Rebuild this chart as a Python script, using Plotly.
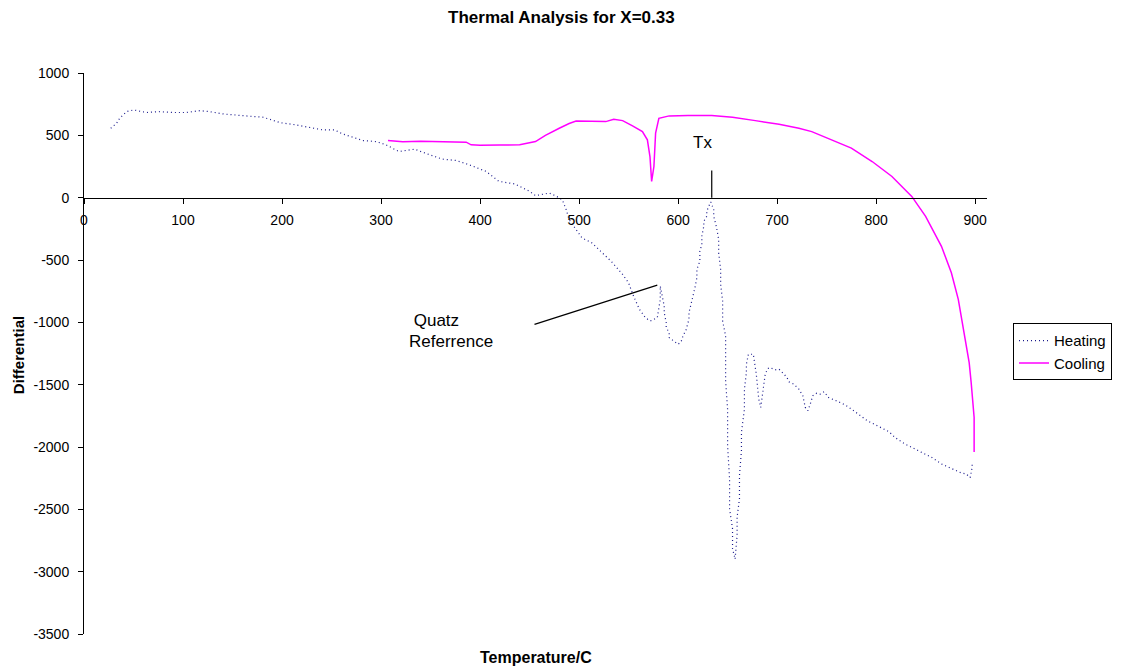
import plotly.graph_objects as go

# Heating series (temperature / differential)
heat_T = [27, 30, 33, 36, 43, 50, 63, 75, 90, 103, 117, 127, 140, 160, 181, 198, 214, 241, 253, 261,
          282, 295, 305, 318, 334, 349, 362, 376, 389, 406, 419, 435, 450, 456, 470, 476, 483, 487,
          490, 497, 503, 513, 524, 534, 544, 550, 555, 561, 567, 572, 579, 582, 582, 586, 586, 588,
          588, 591, 591, 596, 600, 603, 605, 608, 611, 611, 614, 617, 619, 619, 622, 622, 624, 624,
          626, 626, 629, 629, 631, 633, 636, 636, 639, 641, 641, 643, 643, 645, 645, 648, 648, 650,
          650, 652, 652, 655, 655, 657.6, 659.6, 659.6, 662, 662, 664, 664, 667, 667, 669, 669, 671,
          676, 679, 681.5, 683.5, 686, 688, 690.5, 693, 698, 702, 707, 710, 712, 717, 722, 726, 728.5,
          731, 733.5, 736, 740, 743.5, 747.5, 752, 762, 769, 776, 782, 791, 799, 806, 813, 819, 829,
          836, 846, 856, 866, 876, 886, 891, 895, 897, 897]
heat_D = [557, 575, 597, 637, 690, 704, 683, 690, 683, 683, 698, 690, 672, 658, 645, 602, 584, 544, 544, 512,
          458, 450, 424, 370, 389, 344, 309, 298, 264, 211, 131, 110, 51, 16, 37, 16, -16, -96,
          -176, -256, -323, -363, -443, -523, -616, -683, -789, -896, -963, -989, -963, -816, -709, -870, -923, -1002,
          -1042, -1082, -1122, -1149, -1176, -1157, -1109, -1061, -976, -923, -829, -723, -643, -576, -509, -429, -376, -309,
          -229, -189, -149, -109, -69, -35, -96, -149, -243, -336, -443, -576, -696, -829, -989, -1109, -1469, -1696,
          -1989, -2256, -2496, -2656, -2816, -2900, -2709, -2563, -2416, -2229, -2029, -1883, -1696, -1536, -1403, -1336, -1256,
          -1256, -1416, -1616, -1683, -1549, -1416, -1371, -1363, -1381, -1376, -1416, -1443, -1477, -1496, -1536, -1589, -1683,
          -1709, -1656, -1589, -1568, -1576, -1557, -1603, -1637, -1664, -1701, -1736, -1789, -1821, -1850, -1877, -1923, -1976,
          -2003, -2043, -2083, -2136, -2171, -2208, -2216, -2245, -2163, -2123]

# Cooling series
cool_T = [307, 322, 340, 360, 376, 386, 391, 400, 420, 440, 456, 466, 480, 490, 497, 510, 527, 535, 544,
          554, 564, 569, 571.6, 573.3, 575.6, 577.3, 580.6, 591, 610, 634, 655, 678, 702, 722, 735,
          755, 775, 796, 816, 836, 850, 866, 876, 883, 888, 891.5, 894, 896, 897.5, 899, 899]
cool_D = [458, 448, 452, 450, 448, 445, 424, 420, 422, 424, 450, 500, 557, 595, 614, 612, 610, 629, 618,
          576, 530, 464, 330, 131, 250, 517, 637, 656, 660, 659, 645, 618, 589, 557, 530,
          464, 397, 290, 170, 10, -150, -390, -602, -816, -1056, -1189, -1323, -1483, -1616, -1763, -2040]

x_ticks = [0, 100, 200, 300, 400, 500, 600, 700, 800, 900]
y_ticks = [1000, 500, 0, -500, -1000, -1500, -2000, -2500, -3000, -3500]

FONT = "Liberation Sans, Arial, sans-serif"

fig = go.Figure()
fig.add_trace(go.Scatter(x=heat_T, y=heat_D, mode="lines", name="Heating",
                         line=dict(color="#1a1a8c", width=1.2, dash="1px,3px")))
fig.add_trace(go.Scatter(x=cool_T, y=cool_D, mode="lines", name="Cooling",
                         line=dict(color="#FF00FF", width=1.5)))

# Tx marker line
fig.add_shape(type="line", x0=634, x1=634, y0=0, y1=218, line=dict(color="black", width=1.2))
fig.add_annotation(x=625, y=444, text="Tx", showarrow=False, font=dict(family=FONT, size=17, color="black"))

# Quartz reference leader line
fig.add_shape(type="line", x0=455, y0=-1016, x1=579, y1=-702, line=dict(color="black", width=1.2))
fig.add_annotation(x=326, y=-984, text="&nbsp;Quatz", showarrow=False, xanchor="left",
                   font=dict(family=FONT, size=17, color="black"))
fig.add_annotation(x=326, y=-1152, text="Referrence", showarrow=False, xanchor="left",
                   font=dict(family=FONT, size=17, color="black"))

# Axis titles
fig.add_annotation(xref="paper", yref="paper", x=0.5, y=-0.041, text="<b>Temperature/C</b>",
                   showarrow=False, yanchor="middle", font=dict(family=FONT, size=16, color="black"))
fig.add_annotation(xref="paper", yref="paper", x=-0.0731, y=0.497, text="<b>Differential</b>",
                   showarrow=False, textangle=-90, xanchor="center", yanchor="middle",
                   font=dict(family=FONT, size=15, color="black"))

fig.update_layout(
    width=1125, height=667,
    paper_bgcolor="white", plot_bgcolor="white",
    margin=dict(l=84, r=138, t=73, b=33),
    title=dict(text="<b>Thermal Analysis for X=0.33</b>", x=0.499, xref="container", xanchor="center",
               y=0.9745, yref="container", yanchor="middle", font=dict(family=FONT, size=17, color="black")),
    font=dict(family=FONT, size=14, color="black"),
    showlegend=True,
    legend=dict(x=1.0288, xanchor="left", y=0.503, yanchor="middle", bordercolor="black", borderwidth=1,
                bgcolor="white", font=dict(family=FONT, size=15, color="black"), tracegroupgap=0),
    xaxis=dict(range=[0, 912], tickvals=x_ticks, ticktext=[str(v) for v in x_ticks],
               anchor="free", position=3500 / 4500, showline=True, linecolor="black", linewidth=1,
               ticks="outside", ticklen=5, tickcolor="black", showgrid=False, zeroline=False,
               tickfont=dict(family=FONT, size=14, color="black"), ticklabelstandoff=5),
    yaxis=dict(range=[-3500, 1000], tickvals=y_ticks, ticktext=[str(v) for v in y_ticks],
               showline=True, linecolor="black", linewidth=1, ticks="outside", ticklen=5,
               tickcolor="black", showgrid=False, zeroline=False,
               tickfont=dict(family=FONT, size=14, color="black"), ticklabelstandoff=6),
)

fig.write_html("out.html")
